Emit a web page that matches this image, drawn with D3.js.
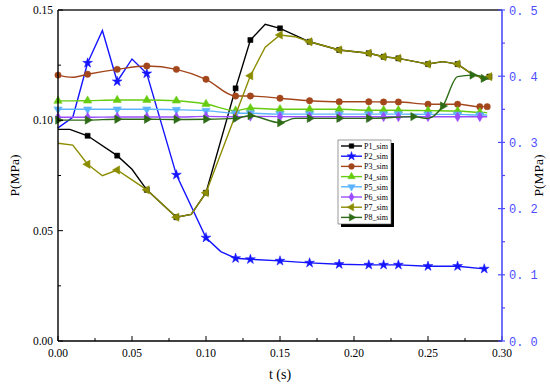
<!DOCTYPE html>
<html>
<head>
<meta charset="utf-8">
<script src="https://cdn.jsdelivr.net/npm/d3@7"></script>
<style>
  body { margin: 0; background: #fff; }
  svg { display: block; }
</style>
</head>
<body>
<div id="chart"></div>
<script>
// series values [t (s), P (MPa)]; P2 is read against the right axis
const P1 = [[0,0.0959],[0.008,0.0959],[0.02,0.0930],[0.04,0.0840],[0.05,0.0778],[0.06,0.0685],[0.08,0.0561],[0.09,0.0574],[0.10,0.0672],
  [0.12,0.1145],[0.13,0.1364],[0.14,0.1435],[0.15,0.1417],[0.17,0.1356],[0.19,0.1319],[0.21,0.1304],[0.22,0.1288],[0.23,0.1281],
  [0.25,0.1255],[0.26,0.1266],[0.27,0.1255],[0.28,0.1208],[0.2845,0.1198],[0.2875,0.1181],[0.2915,0.1198]];
const P2 = [[0,0.322],[0.01,0.338],[0.02,0.420],[0.03,0.469],[0.04,0.392],[0.05,0.426],[0.06,0.404],[0.08,0.251],[0.10,0.156],
  [0.11,0.135],[0.12,0.125],[0.13,0.1234],[0.15,0.121],[0.17,0.118],[0.19,0.116],[0.21,0.115],[0.22,0.115],[0.23,0.115],
  [0.25,0.113],[0.27,0.113],[0.288,0.109]];
const P3 = [[0,0.1205],[0.01,0.1195],[0.02,0.1209],[0.04,0.1231],[0.06,0.1246],[0.08,0.1231],[0.10,0.1186],[0.12,0.1110],
  [0.13,0.1110],[0.15,0.1100],[0.17,0.1089],[0.19,0.1084],[0.21,0.1084],[0.22,0.1083],[0.23,0.1083],[0.25,0.1073],
  [0.27,0.1073],[0.285,0.1062],[0.29,0.1062]];
const P4 = [[0,0.1088],[0.02,0.1089],[0.04,0.1092],[0.06,0.1092],[0.08,0.1089],[0.10,0.1074],[0.12,0.1044],[0.13,0.1055],
  [0.15,0.1050],[0.17,0.1050],[0.19,0.1050],[0.21,0.1046],[0.22,0.1046],[0.23,0.1046],[0.25,0.1044],[0.27,0.1042],
  [0.285,0.1036],[0.29,0.1035]];
const P5 = [[0,0.1050],[0.02,0.1050],[0.04,0.1050],[0.06,0.1050],[0.08,0.1048],[0.10,0.1044],[0.12,0.1032],[0.13,0.1032],
  [0.15,0.1028],[0.17,0.1028],[0.19,0.1028],[0.21,0.1028],[0.22,0.1028],[0.23,0.1028],[0.25,0.1027],[0.27,0.1027],
  [0.285,0.1024],[0.29,0.1024]];
const P6 = [[0,0.1014],[0.02,0.1014],[0.04,0.1015],[0.06,0.1015],[0.08,0.1015],[0.10,0.1018],[0.12,0.1016],[0.13,0.1018],
  [0.15,0.1017],[0.17,0.1016],[0.19,0.1016],[0.21,0.1016],[0.22,0.1016],[0.23,0.1016],[0.25,0.1016],[0.27,0.1016],
  [0.285,0.1016],[0.29,0.1016]];
const P7 = [[0,0.0896],[0.01,0.0888],[0.02,0.0801],[0.03,0.0749],[0.04,0.0775],[0.05,0.0730],[0.06,0.0685],[0.08,0.0561],
  [0.09,0.0574],[0.10,0.0672],[0.13,0.1202],[0.14,0.1331],[0.15,0.1387],[0.16,0.1379],[0.17,0.1356],[0.19,0.1319],
  [0.21,0.1304],[0.22,0.1288],[0.23,0.1281],[0.25,0.1255],[0.26,0.1266],[0.27,0.1255],[0.28,0.1208],[0.2845,0.1198],
  [0.2875,0.1181],[0.2915,0.1198]];
const P8 = [[0,0.1001],[0.02,0.1001],[0.04,0.1005],[0.06,0.1005],[0.08,0.1004],[0.10,0.1005],[0.12,0.1009],[0.13,0.1021],
  [0.15,0.0989],[0.16,0.1009],[0.17,0.1009],[0.19,0.1009],[0.21,0.1009],[0.24,0.1017],[0.25,0.1009],[0.26,0.1065],
  [0.27,0.1198],[0.28,0.1205],[0.2845,0.1202],[0.2875,0.1190]];

// times carrying a marker
const MK = [0,0.02,0.04,0.06,0.08,0.10,0.12,0.13,0.15,0.17,0.19,0.21,0.22,0.23,0.25,0.27,0.285];
const MK_P1 = [0.02,0.04,0.06,0.08,0.10,0.12,0.13,0.15,0.17,0.19,0.21,0.22,0.23,0.25,0.27,0.2915];
const MK_P2 = [0.02,0.04,0.06,0.08,0.10,0.12,0.13,0.15,0.17,0.19,0.21,0.22,0.23,0.25,0.27,0.288];
const MK_P3 = MK.concat([0.29]);
const MK_P7 = [0.02,0.04,0.06,0.08,0.10,0.13,0.15,0.17,0.19,0.21,0.22,0.23,0.25,0.27,0.2915];
const MK_P8 = [0,0.02,0.04,0.06,0.08,0.10,0.12,0.13,0.15,0.17,0.19,0.21,0.24,0.26,0.28,0.2875];

const names = ["P1_sim","P2_sim","P3_sim","P4_sim","P5_sim","P6_sim","P7_sim","P8_sim"];
const xTicks = [0, 0.05, 0.10, 0.15, 0.20, 0.25, 0.30];
const yLeftTicks = [0, 0.05, 0.10, 0.15];
const yRightTicks = [0, 0.1, 0.2, 0.3, 0.4, 0.5];

const width = 550, height = 385;
const m = {left: 58, right: 502, top: 10, bottom: 341};
const serif = "'Liberation Serif', 'Times New Roman', serif";
const axisBlue = "#4d4dff";

const x = d3.scaleLinear().domain([0, 0.30]).range([m.left, m.right]);
const yL = d3.scaleLinear().domain([0, 0.15]).range([m.bottom, m.top]);
const yR = d3.scaleLinear().domain([0, 0.5]).range([m.bottom, m.top]);

const series = [
  {data: P1, mk: MK_P1, color: "#000000", sym: "square", y: yL, curve: d3.curveLinear},
  {data: P2, mk: MK_P2, color: "#1414ff", sym: "star", y: yR, curve: d3.curveLinear},
  {data: P3, mk: MK_P3, color: "#a3461c", sym: "circle", y: yL, curve: d3.curveMonotoneX},
  {data: P4, mk: MK, color: "#66cc11", sym: "up", y: yL, curve: d3.curveMonotoneX},
  {data: P5, mk: MK, color: "#5cb4ff", sym: "down", y: yL, curve: d3.curveMonotoneX},
  {data: P6, mk: MK, color: "#9b4dff", sym: "diamond", y: yL, curve: d3.curveMonotoneX},
  {data: P7, mk: MK_P7, color: "#8c8c00", sym: "left", y: yL, curve: d3.curveLinear},
  {data: P8, mk: MK_P8, color: "#2e6b16", sym: "right", y: yL, curve: d3.curveMonotoneX}
];

const svg = d3.select("#chart").append("svg")
  .attr("width", width).attr("height", height);

function symbolPath(sym, k) {
  const tri = d3.symbol().type(d3.symbolTriangle).size(30 * k)();
  switch (sym) {
    case "square": return {d: d3.symbol().type(d3.symbolSquare).size(26 * k)(), rot: 0};
    case "star": return {d: d3.symbol().type(d3.symbolStar).size(30 * k)(), rot: 0};
    case "circle": return {d: d3.symbol().type(d3.symbolCircle).size(32 * k)(), rot: 0};
    case "diamond": return {d: d3.symbol().type(d3.symbolDiamond).size(28 * k)(), rot: 0};
    case "up": return {d: tri, rot: 0};
    case "down": return {d: tri, rot: 180};
    case "left": return {d: tri, rot: -90};
    case "right": return {d: tri, rot: 90};
  }
}

// frame
svg.append("line").attr("x1", m.left).attr("x2", m.right).attr("y1", m.top).attr("y2", m.top)
  .attr("stroke", "#222").attr("stroke-width", 1.3);

// lines + markers
const plot = svg.append("g");
series.forEach(s => {
  const line = d3.line().x(d => x(d[0])).y(d => s.y(d[1])).curve(s.curve);
  plot.append("path").datum(s.data)
    .attr("d", line).attr("fill", "none")
    .attr("stroke", s.color).attr("stroke-width", 1.4);
  const sp = symbolPath(s.sym, 1);
  plot.selectAll(null)
    .data(s.data.filter(d => s.mk.some(t => Math.abs(t - d[0]) < 1e-6)))
    .enter().append("path")
    .attr("d", sp.d)
    .attr("transform", d => `translate(${x(d[0])},${s.y(d[1])}) rotate(${sp.rot})`)
    .attr("fill", s.color).attr("stroke", s.color).attr("stroke-width", 0.5);
});

// bottom axis
const xAxis = svg.append("g").attr("transform", `translate(0,${m.bottom})`);
xAxis.append("line").attr("x1", m.left).attr("x2", m.right).attr("stroke", "#000").attr("stroke-width", 1.4);
xAxis.selectAll(".maj").data(xTicks).enter().append("line")
  .attr("x1", d => x(d)).attr("x2", d => x(d)).attr("y1", 0).attr("y2", -5)
  .attr("stroke", "#000").attr("stroke-width", 1);
xAxis.selectAll(".min").data(d3.range(0.025, 0.3, 0.05)).enter().append("line")
  .attr("x1", d => x(d)).attr("x2", d => x(d)).attr("y1", 0).attr("y2", -3)
  .attr("stroke", "#000").attr("stroke-width", 1);
xAxis.selectAll("text").data(xTicks).enter().append("text")
  .attr("x", d => x(d)).attr("y", 16)
  .attr("text-anchor", "middle").attr("font-family", serif).attr("font-size", 11.5)
  .text(d => d3.format(".2f")(d));

// left axis
const yAxis = svg.append("g").attr("transform", `translate(${m.left},0)`);
yAxis.append("line").attr("y1", m.top).attr("y2", m.bottom).attr("stroke", "#000").attr("stroke-width", 1.4);
yAxis.selectAll(".maj").data(yLeftTicks).enter().append("line")
  .attr("y1", d => yL(d)).attr("y2", d => yL(d)).attr("x1", 0).attr("x2", 5)
  .attr("stroke", "#000").attr("stroke-width", 1);
yAxis.selectAll(".min").data([0.025, 0.075, 0.125]).enter().append("line")
  .attr("y1", d => yL(d)).attr("y2", d => yL(d)).attr("x1", 0).attr("x2", 3)
  .attr("stroke", "#000").attr("stroke-width", 1);
yAxis.selectAll("text").data(yLeftTicks).enter().append("text")
  .attr("x", -5).attr("y", d => yL(d) + 4)
  .attr("text-anchor", "end").attr("font-family", serif).attr("font-size", 11.5)
  .text(d => d3.format(".2f")(d));

// right axis
const rAxis = svg.append("g").attr("transform", `translate(${m.right},0)`);
rAxis.append("line").attr("y1", m.top).attr("y2", m.bottom).attr("stroke", axisBlue).attr("stroke-width", 1.6);
rAxis.selectAll(".maj").data(yRightTicks).enter().append("line")
  .attr("y1", d => yR(d)).attr("y2", d => yR(d)).attr("x1", -4).attr("x2", 3)
  .attr("stroke", axisBlue).attr("stroke-width", 1.2);
rAxis.selectAll(".min").data(d3.range(0.05, 0.5, 0.1)).enter().append("line")
  .attr("y1", d => yR(d)).attr("y2", d => yR(d)).attr("x1", 0).attr("x2", 3)
  .attr("stroke", axisBlue).attr("stroke-width", 1.2);
rAxis.selectAll("text").data(yRightTicks).enter().append("text")
  .attr("x", 7).attr("y", d => yR(d) + 4.5)
  .attr("font-family", "'Liberation Mono', monospace").attr("font-size", 12)
  .attr("fill", axisBlue)
  .text(d => d3.format(".1f")(d).replace(".", ". "));

// axis titles
svg.append("text")
  .attr("transform", `translate(19,${(m.top + m.bottom) / 2}) rotate(-90)`)
  .attr("text-anchor", "middle").attr("font-family", serif).attr("font-size", 13.5)
  .text("P(MPa)");
svg.append("text")
  .attr("transform", `translate(543,${(m.top + m.bottom) / 2}) rotate(-90)`)
  .attr("text-anchor", "middle").attr("font-family", serif).attr("font-size", 13.5)
  .text("P(MPa)");
svg.append("text")
  .attr("x", (m.left + m.right) / 2).attr("y", 379)
  .attr("text-anchor", "middle").attr("font-family", serif).attr("font-size", 14)
  .text("t (s)");

// legend
const lg = {x: 338, y: 140, w: 53, h: 84, row: 10.2};
const legend = svg.append("g");
legend.append("rect").attr("x", lg.x + 3).attr("y", lg.y + 3).attr("width", lg.w).attr("height", lg.h).attr("fill", "#000");
legend.append("rect").attr("x", lg.x).attr("y", lg.y).attr("width", lg.w).attr("height", lg.h)
  .attr("fill", "#fff").attr("stroke", "#555").attr("stroke-width", 0.6);
series.forEach((s, i) => {
  const yy = lg.y + 6 + i * lg.row;
  legend.append("line").attr("x1", lg.x + 3).attr("x2", lg.x + 24).attr("y1", yy).attr("y2", yy)
    .attr("stroke", s.color).attr("stroke-width", 1.4);
  const sp = symbolPath(s.sym, 0.8);
  legend.append("path").attr("d", sp.d)
    .attr("transform", `translate(${lg.x + 13.5},${yy}) rotate(${sp.rot})`)
    .attr("fill", s.color).attr("stroke", s.color).attr("stroke-width", 0.5);
  legend.append("text").attr("x", lg.x + 26).attr("y", yy + 3)
    .attr("font-family", serif).attr("font-size", 8)
    .text(names[i]);
});
</script>
</body>
</html>
